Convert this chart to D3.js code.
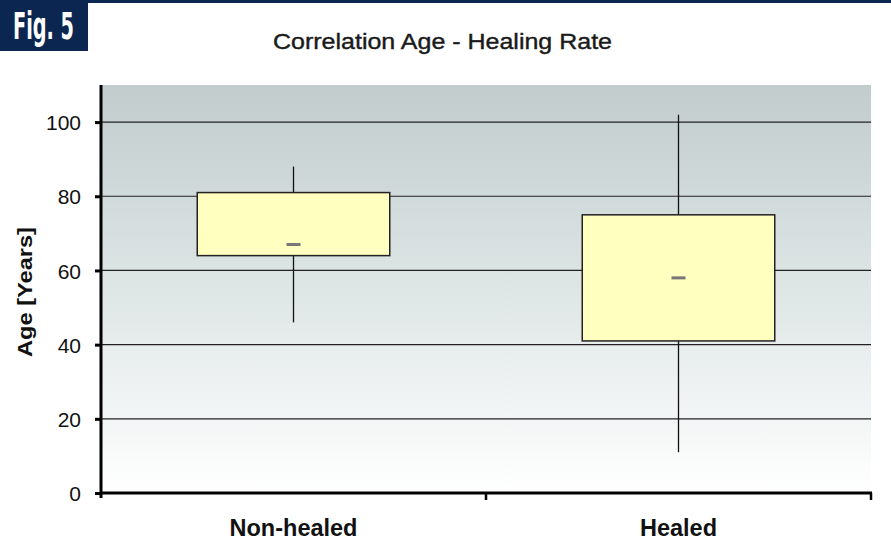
<!DOCTYPE html>
<html>
<head>
<meta charset="utf-8">
<script src="https://cdn.jsdelivr.net/npm/d3@7"></script>
<style>
  body { margin: 0; background: #fff; }
  svg { display: block; font-family: "Liberation Sans", Arial, sans-serif; }
</style>
</head>
<body>
<div id="chart"></div>
<script>
// data
const groups = ["Non-healed", "Healed"];
const whiskerMin = [46, 11];
const boxLow = [64, 41];
const medians = [67, 58];
const boxHigh = [81, 75];
const whiskerMax = [88, 102];
const yTicks = [0, 20, 40, 60, 80, 100];

const w = 891, h = 560;
const plotL = 101, plotR = 871, plotT = 85, plotB = 493;

const svg = d3.select("#chart").append("svg")
    .attr("width", w)
    .attr("height", h);

// header bar + Fig. 5 label
svg.append("rect").attr("x", 0).attr("y", 0).attr("width", w).attr("height", 3).attr("fill", "#0b2650");
svg.append("rect").attr("x", 0).attr("y", 0).attr("width", 88).attr("height", 51).attr("fill", "#0b2650");
svg.append("text")
    .attr("x", 13).attr("y", 39)
    .attr("fill", "#fff")
    .attr("textLength", 61)
    .attr("lengthAdjust", "spacingAndGlyphs")
    .style("font-family", "'DejaVu Sans Condensed', 'DejaVu Sans', sans-serif")
    .style("font-weight", "bold")
    .style("font-size", "37px")
    .text("Fig. 5");

svg.append("text")
    .attr("x", 273).attr("y", 49)
    .attr("fill", "#1a1a1a")
    .attr("stroke", "#1a1a1a")
    .attr("stroke-width", 0.4)
    .attr("textLength", 339)
    .attr("lengthAdjust", "spacingAndGlyphs")
    .style("font-size", "22px")
    .text("Correlation Age - Healing Rate");

// background gradient
const defs = svg.append("defs");
const grad = defs.append("linearGradient").attr("id", "bg")
    .attr("x1", 0).attr("y1", 0).attr("x2", 0).attr("y2", 1);
grad.append("stop").attr("offset", "0%").attr("stop-color", "#c2cccc");
grad.append("stop").attr("offset", "45%").attr("stop-color", "#dbe3e3");
grad.append("stop").attr("offset", "100%").attr("stop-color", "#ffffff");

svg.append("rect")
    .attr("x", plotL).attr("y", plotT)
    .attr("width", plotR - plotL).attr("height", plotB - plotT)
    .attr("fill", "url(#bg)");

const xScale = d3.scaleBand()
    .domain(groups)
    .range([plotL, plotR])
    .padding(0);

const yScale = d3.scaleLinear()
    .domain([0, 110])
    .range([plotB, plotT]);

// gridlines
svg.append("g")
    .selectAll("line")
    .data(yTicks.filter(d => d > 0))
    .enter()
    .append("line")
    .attr("x1", plotL).attr("x2", plotR)
    .attr("y1", d => yScale(d)).attr("y2", d => yScale(d))
    .attr("stroke", "#222")
    .attr("stroke-width", 1.2);

// whiskers
const boxW = xScale.bandwidth() * 0.5;
const cx = (d, i) => xScale(groups[i]) + xScale.bandwidth() / 2;

svg.append("g")
    .selectAll("line")
    .data(groups)
    .enter()
    .append("line")
    .attr("x1", cx).attr("x2", cx)
    .attr("y1", (d, i) => yScale(whiskerMin[i]))
    .attr("y2", (d, i) => yScale(whiskerMax[i]))
    .attr("stroke", "#111")
    .attr("stroke-width", 1.3);

// boxes
svg.append("g")
    .selectAll("rect")
    .data(groups)
    .enter()
    .append("rect")
    .attr("x", (d, i) => cx(d, i) - boxW / 2)
    .attr("y", (d, i) => yScale(boxHigh[i]))
    .attr("width", boxW)
    .attr("height", (d, i) => yScale(boxLow[i]) - yScale(boxHigh[i]))
    .attr("fill", "#ffffc0")
    .attr("stroke", "#222")
    .attr("stroke-width", 1.5);

// medians
svg.append("g")
    .selectAll("line")
    .data(groups)
    .enter()
    .append("line")
    .attr("x1", (d, i) => cx(d, i) - 7)
    .attr("x2", (d, i) => cx(d, i) + 7)
    .attr("y1", (d, i) => yScale(medians[i]))
    .attr("y2", (d, i) => yScale(medians[i]))
    .attr("stroke", "#777")
    .attr("stroke-width", 3);

// axes
const yAxis = d3.axisLeft(yScale)
    .tickValues(yTicks)
    .tickSize(6)
    .tickPadding(14);

const ay = svg.append("g")
    .attr("transform", `translate(${plotL},0)`)
    .call(yAxis);
ay.select(".domain").remove();
ay.append("line")
    .attr("x1", 0).attr("x2", 0)
    .attr("y1", plotT).attr("y2", plotB + 5)
    .attr("stroke", "#000").attr("stroke-width", 3);
ay.selectAll(".tick line").attr("stroke", "#000").attr("stroke-width", 3);
ay.selectAll(".tick text")
    .attr("fill", "#111")
    .attr("dy", "0.36em")
    .style("font-size", "21px")
    .style("font-family", "'Liberation Sans', Arial, sans-serif");

const xAxis = d3.axisBottom(xScale)
    .tickValues([])
    .tickSize(0);

const ax = svg.append("g")
    .attr("transform", `translate(0,${plotB})`)
    .call(xAxis);
ax.select(".domain").remove();
ax.append("line")
    .attr("x1", plotL).attr("x2", plotR + 1)
    .attr("y1", 0).attr("y2", 0)
    .attr("stroke", "#000").attr("stroke-width", 3);
ax.selectAll(".sep")
    .data([xScale(groups[1]), plotR])
    .enter()
    .append("line")
    .attr("x1", d => d).attr("x2", d => d)
    .attr("y1", 0).attr("y2", 7)
    .attr("stroke", "#000").attr("stroke-width", 2.5);

svg.append("g")
    .selectAll("text")
    .data(groups)
    .enter()
    .append("text")
    .attr("x", cx)
    .attr("y", 536)
    .attr("text-anchor", "middle")
    .attr("fill", "#111")
    .style("font-weight", "bold")
    .style("font-size", "23.5px")
    .text(d => d);

svg.append("text")
    .attr("transform", "translate(32,292) rotate(-90)")
    .attr("text-anchor", "middle")
    .attr("fill", "#111")
    .attr("textLength", 130)
    .attr("lengthAdjust", "spacingAndGlyphs")
    .style("font-weight", "bold")
    .style("font-size", "21px")
    .text("Age [Years]");
</script>
</body>
</html>
